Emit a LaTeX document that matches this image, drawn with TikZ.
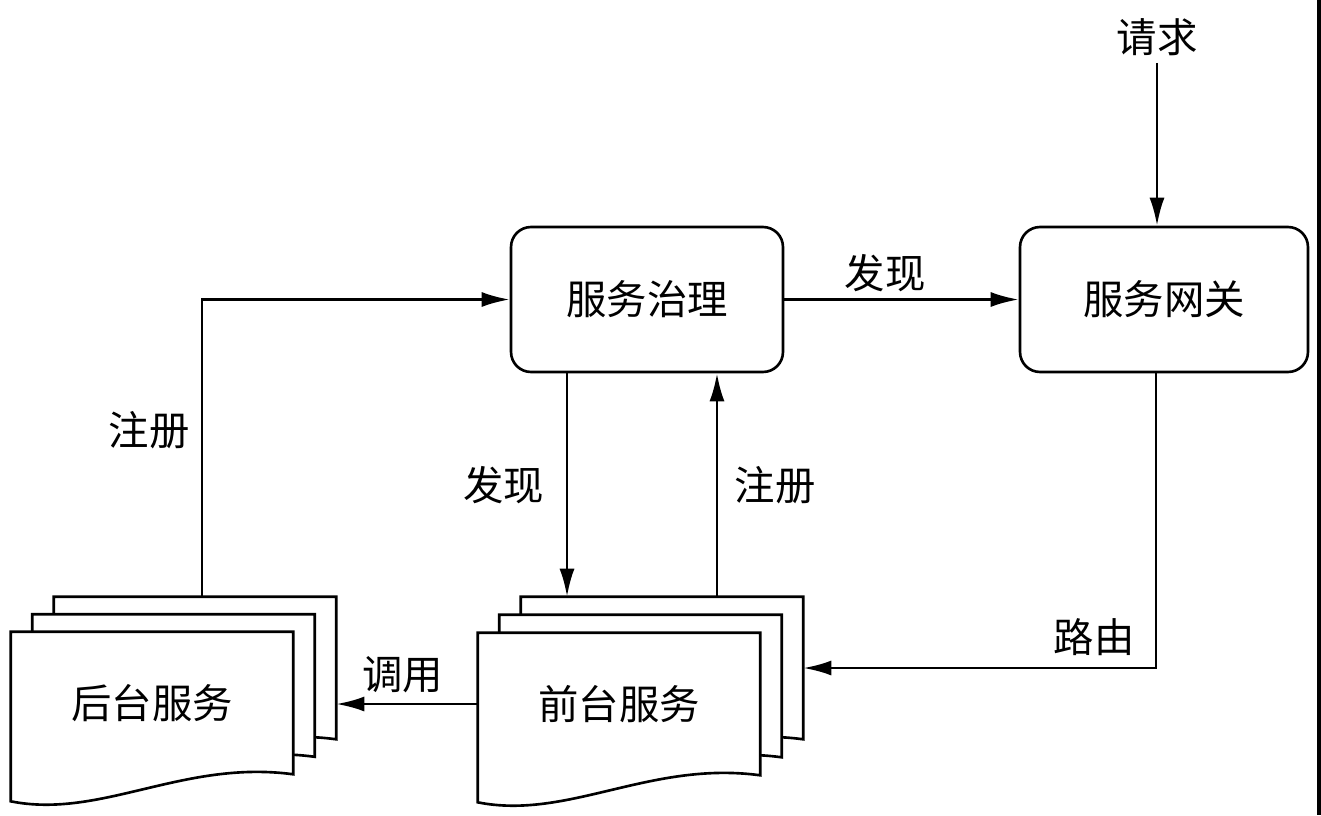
\documentclass[tikz,border=0pt]{standalone}
\usepackage{fontspec}
\newfontfamily\cjk{Noto Sans CJK SC}
\usetikzlibrary{arrows.meta,calc,positioning}

\begin{document}
\begin{tikzpicture}[x=0.02cm,y=-0.02cm,line width=1.5pt,
    every node/.style={font=\cjk\fontsize{23}{27}\selectfont},
    arr/.style={-{Latex[length=0.56cm,width=0.3cm]}},
    box/.style={draw,rounded corners=0.4cm,minimum height=2.9cm},
    sheet/.style={minimum width=5.6cm,minimum height=2.8cm,inner sep=0pt}]
  \useasboundingbox (0,0) rectangle (1321,815);
  \node[box,minimum width=5.44cm](zl) at (647,299.5){服务治理};
  \node[box,minimum width=5.76cm](wg) at (1164,299.5){服务网关};
  \node(qq) at (1157,37){请求};
  \foreach \i in {1,2,3}{
    \node[sheet](htai-\i) at ({152+21.5*(\i-1)},{703-17.5*(\i-1)}){};
    \node[sheet](qtai-\i) at ({619+21.5*(\i-1)},{704-18*(\i-1)}){};
  }
  \foreach \s in {htai,qtai}
    \foreach \i in {3,2,1}
      \filldraw[fill=white](\s-\i.north west)--(\s-\i.north east)--(\s-\i.south east)
        .. controls ($(\s-\i.south east)+(-110,-15)$) and ($(\s-\i.south west)+(90,45)$) .. ($(\s-\i.south west)+(0,27)$)--cycle;
  \node(htai-txt) at (htai-1){后台服务};
  \node(qtai-txt) at (qtai-1){前台服务};

  \draw[arr](qq.south)--(qq.south|-wg.north);
  \draw[arr](zl.east)--node[pos=0.43,above=0pt](lb-fx1){发现}(wg.west);
  \draw[arr]([xshift=0.14cm]htai-3.north)|-node[pos=0.28,left=3pt](lb-zc1){注册}(zl.west);
  \coordinate(fx) at ([xshift=-1.6cm]zl.south);
  \coordinate(zc) at ([xshift=1.4cm]zl.south);
  \draw[arr](fx)--node[left=9pt](lb-fx2){发现}(fx|-qtai-3.north);
  \draw[arr](zc|-qtai-3.north)--node[right=6pt](lb-zc2){注册}(zc);
  \coordinate(ly) at ([xshift=-0.16cm]wg.south);
  \draw[arr](ly)|-node[pos=0.5,above left=3pt and 8pt](lb-ly){路由}(qtai-3.east);
  \draw[arr](qtai-1.west)--node[pos=0.53,above=2pt](lb-dy){调用}(qtai-1.west-|htai-3.east);
  \fill (1317,0) rectangle (1321,815);
\end{tikzpicture}
\end{document}
